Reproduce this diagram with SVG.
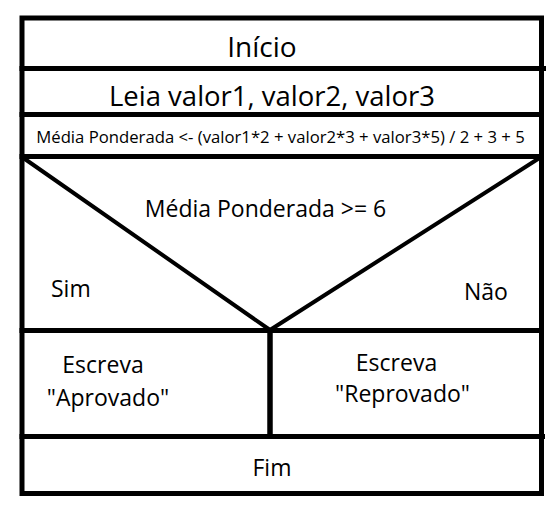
<svg xmlns="http://www.w3.org/2000/svg" width="559" height="514" viewBox="0 0 559 514">
<style>
.b{fill:none;stroke:#000;stroke-width:5}
.d{fill:none;stroke:#000;stroke-width:4}
text{font-family:"Open Sans","Noto Sans","DejaVu Sans",sans-serif;fill:#000}
.c{text-anchor:middle}
.m{font-size:23px}
</style>
<rect width="559" height="514" fill="#fff"/>
<g id="inicio">
<rect class="b" x="22" y="18" width="519.5" height="50.5"/>
<text class="c" x="262" y="57" font-size="28">Início</text>
</g>
<g id="leia">
<rect class="b" x="22" y="68.5" width="519.5" height="46"/>
<text class="c" x="272" y="106" font-size="27.5">Leia valor1, valor2, valor3</text>
</g>
<g id="media">
<rect class="b" x="22" y="114.5" width="519.5" height="42"/>
<text class="c" x="280.5" y="143" font-size="16.7">Média Ponderada &lt;- (valor1*2 + valor2*3 + valor3*5) / 2 + 3 + 5</text>
</g>
<g id="decisao">
<rect class="b" x="22" y="156.5" width="519.5" height="174"/>
<path class="d" d="M22,157 L270,330 L541,157"/>
<text class="c m" x="265.5" y="217">Média Ponderada &gt;= 6</text>
<text class="m" x="51" y="297">Sim</text>
<text class="m" x="464" y="300">Não</text>
</g>
<g id="aprovado">
<rect class="b" x="22" y="330.5" width="248" height="106"/>
<text class="c m" x="103" y="373">Escreva</text>
<text class="c m" x="108" y="406">"Aprovado"</text>
</g>
<g id="reprovado">
<rect class="b" x="270" y="330.5" width="271.5" height="106"/>
<text class="c m" x="396.5" y="371">Escreva</text>
<text class="c m" x="402.5" y="402">"Reprovado"</text>
</g>
<g id="fim">
<rect class="b" x="22" y="436.5" width="519.5" height="57"/>
<text class="c m" x="272" y="476">Fim</text>
</g>
<g id="connectors">
<path class="b" d="M541.5,68.5 H546 M541.5,436.5 H545"/>
</g>
</svg>
